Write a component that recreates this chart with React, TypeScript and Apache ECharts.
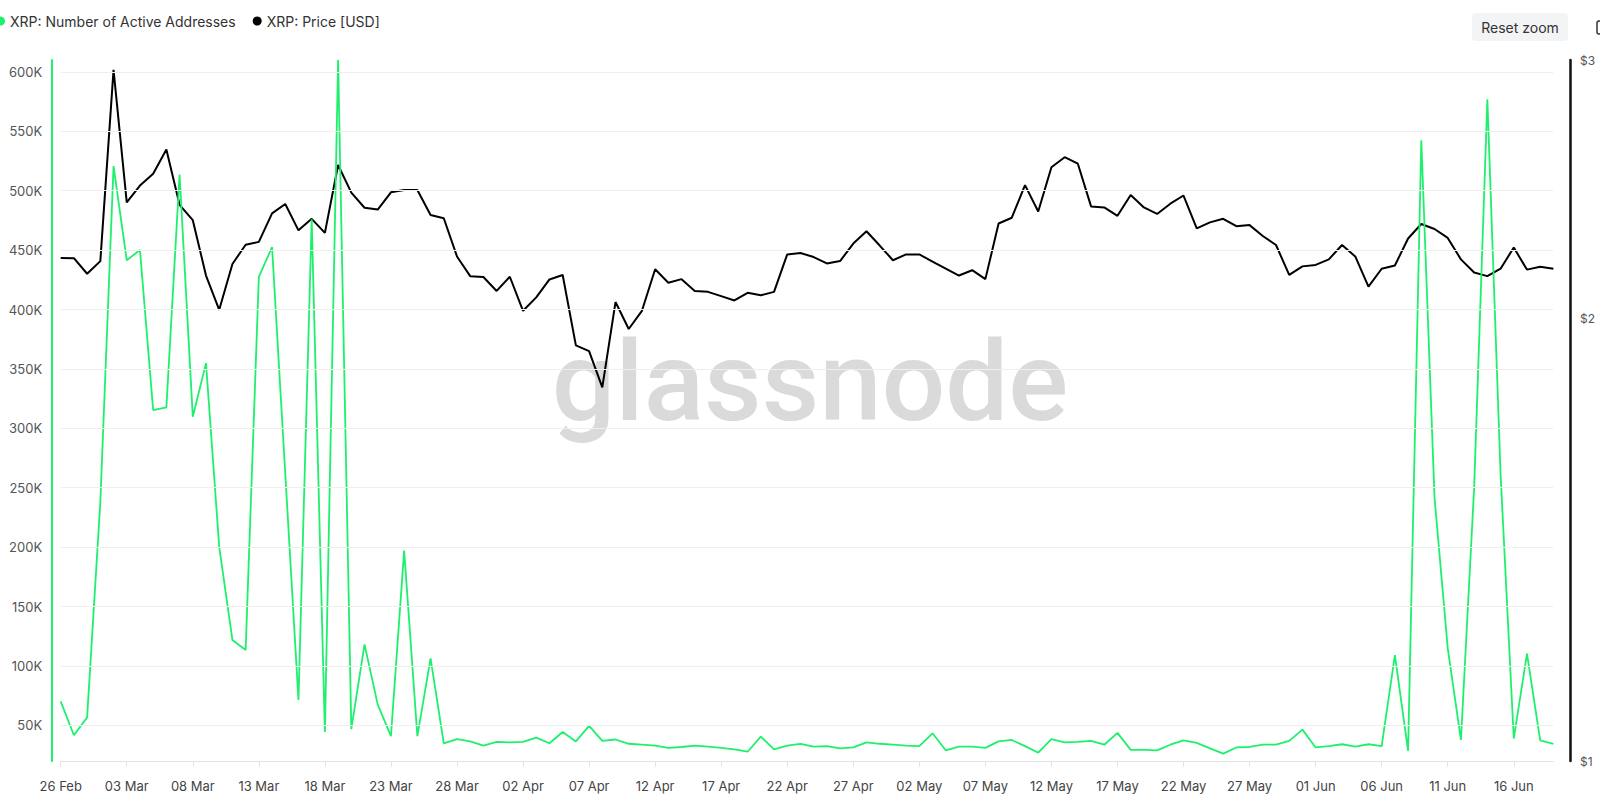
import React, { useEffect, useRef } from "react";
import * as echarts from "echarts";

// ---- data ----
const START_DATE_UTC = Date.UTC(2025, 1, 26); // 26 Feb 2025, daily points
const MONTHS = ["Jan", "Feb", "Mar", "Apr", "May", "Jun", "Jul", "Aug", "Sep", "Oct", "Nov", "Dec"];

// XRP: Number of Active Addresses (thousands)
const activeAddressesK = [
  70.2, 41.7, 56.7, 238, 520.7, 441.4, 450.1, 315.3, 317.7, 513.6,
  309.7, 354.9, 200.3, 121.8, 113.4, 427.5, 452.5, 261.8, 71.4, 475.9,
  44.4, 609.9, 46.8, 118.2, 67.4, 40.9, 197.1, 40.9, 106.3, 34.9,
  38.5, 36.5, 32.9, 36.1, 35.7, 36.1, 39.7, 34.9, 44.4, 36.5,
  49.6, 36.9, 38.1, 34.5, 33.7, 32.9, 31.0, 31.8, 32.9, 32.1,
  31.0, 29.8, 27.8, 40.5, 29.8, 32.9, 34.5, 32.1, 32.5, 30.6,
  31.4, 35.7, 34.5, 33.7, 32.9, 32.5, 43.3, 29.0, 32.1, 32.1,
  31.0, 36.5, 37.7, 32.5, 27.0, 38.5, 35.7, 36.1, 36.9, 33.7,
  43.7, 29.4, 29.4, 29.0, 33.7, 37.3, 35.3, 30.6, 26.2, 31.4,
  31.8, 33.7, 33.7, 36.9, 46.4, 31.4, 32.5, 34.1, 32.1, 34.1,
  32.5, 109.1, 28.6, 542.5, 241.9, 115.0, 37.7, 249.9, 577.0, 261.8,
  38.9, 110.3, 37.3, 34.5,
];

// XRP: Price [USD]
const priceUsd = [
  2.200, 2.199, 2.146, 2.189, 2.954, 2.400, 2.464, 2.510, 2.607, 2.391,
  2.334, 2.140, 2.028, 2.179, 2.246, 2.256, 2.359, 2.394, 2.297, 2.339,
  2.288, 2.545, 2.437, 2.380, 2.373, 2.438, 2.447, 2.447, 2.353, 2.341,
  2.205, 2.138, 2.135, 2.089, 2.136, 2.025, 2.068, 2.127, 2.142, 1.918,
  1.901, 1.796, 2.053, 1.968, 2.025, 2.161, 2.116, 2.128, 2.089, 2.086,
  2.072, 2.058, 2.083, 2.075, 2.086, 2.212, 2.217, 2.203, 2.181, 2.189,
  2.250, 2.294, 2.243, 2.192, 2.212, 2.212, 2.187, 2.163, 2.140, 2.158,
  2.128, 2.322, 2.343, 2.466, 2.366, 2.536, 2.576, 2.550, 2.385, 2.381,
  2.350, 2.428, 2.381, 2.357, 2.395, 2.426, 2.304, 2.326, 2.339, 2.312,
  2.316, 2.277, 2.245, 2.142, 2.171, 2.176, 2.195, 2.245, 2.205, 2.103,
  2.163, 2.174, 2.268, 2.320, 2.302, 2.270, 2.195, 2.150, 2.138, 2.163,
  2.236, 2.160, 2.170, 2.163,
];

const dates = activeAddressesK.map((_, i) => {
  const d = new Date(START_DATE_UTC + i * 86400000);
  return `${String(d.getUTCDate()).padStart(2, "0")} ${MONTHS[d.getUTCMonth()]}`;
});

const leftGridTicksK = [50, 100, 150, 200, 250, 300, 350, 400, 450, 500, 550, 600];
const priceTicks = [1, 2, 3];

const GREEN = "#1ef06e";
const FONT = "Inter, 'Noto Sans', sans-serif";
const NAME_AA = "XRP: Number of Active Addresses";
const NAME_PRICE = "XRP: Price [USD]";

export default function App() {
  const ref = useRef<HTMLDivElement>(null);

  useEffect(() => {
    if (!ref.current) return;
    const chart = echarts.init(ref.current, undefined, { renderer: "svg" });
    chart.setOption({
      animation: false,
      backgroundColor: "#ffffff",
      textStyle: { fontFamily: FONT },
      legend: {
        data: [
          { name: NAME_AA, icon: "circle" },
          { name: NAME_PRICE, icon: "circle" },
        ],
        left: -4,
        top: 14,
        padding: 0,
        itemWidth: 9,
        itemHeight: 9,
        itemGap: 17,
        textStyle: { fontSize: 14, color: "#333", fontFamily: FONT },
        selectedMode: false,
      },
      grid: { left: 60.7, right: 46.6, top: 60, bottom: 47, containLabel: false },
      xAxis: {
        type: "category",
        data: dates,
        boundaryGap: false,
        axisLine: { show: true, lineStyle: { color: "#e3e3e3", width: 1 } },
        axisTick: { show: true, interval: 4, length: 6, lineStyle: { color: "#e3e3e3" } },
        axisLabel: { interval: 4, color: "#444", fontSize: 13, margin: 18, fontFamily: FONT },
        splitLine: { show: false },
      },
      yAxis: [
        {
          type: "value",
          position: "left",
          min: 20,
          max: 610,
          interval: 10,
          offset: 8.5,
          axisLine: { show: true, lineStyle: { color: GREEN, width: 2 } },
          axisTick: { show: false },
          splitLine: { show: false },
          axisLabel: {
            color: "#555",
            fontSize: 13,
            margin: 10,
            fontFamily: FONT,
            formatter: (v: number) => (v % 50 === 0 ? `${v}K` : ""),
          },
        },
        {
          type: "log",
          position: "right",
          min: 1,
          max: 3,
          logBase: 10,
          offset: 16.6,
          axisLine: { show: true, lineStyle: { color: "#111", width: 2.5 } },
          axisTick: { show: false },
          splitLine: { show: false },
          axisLabel: {
            customValues: priceTicks,
            color: "#555",
            fontSize: 12,
            margin: 10,
            fontFamily: FONT,
            formatter: (v: number) => `$${Math.round(v)}`,
          },
        },
      ],
      graphic: [
        {
          type: "text",
          z: 0,
          silent: true,
          x: 810,
          y: 381,
          style: {
            text: "glassnode",
            fontSize: 112,
            fontWeight: 500,
            fontFamily: "Roboto, sans-serif",
            fill: "#dadada",
            align: "center",
            verticalAlign: "middle",
          },
        },
        {
          type: "rect",
          shape: { x: 1472, y: 13, width: 96, height: 28, r: 4 },
          style: { fill: "#f3f4f6" },
        },
        {
          type: "text",
          x: 1520,
          y: 27,
          style: {
            text: "Reset zoom",
            fontSize: 14,
            fontFamily: FONT,
            fill: "#333",
            align: "center",
            verticalAlign: "middle",
          },
        },
        {
          type: "rect",
          shape: { x: 1597, y: 21, width: 12, height: 13, r: 2 },
          style: { fill: "none", stroke: "#333", lineWidth: 1.5 },
        },
      ],
      series: [
        {
          name: "grid",
          type: "line",
          yAxisIndex: 0,
          data: activeAddressesK,
          showSymbol: false,
          silent: true,
          z: 1,
          lineStyle: { opacity: 0 },
          markLine: {
            silent: true,
            symbol: ["none", "none"],
            label: { show: false },
            lineStyle: { color: "#efefef", width: 1, type: "solid" },
            data: leftGridTicksK.map((v) => ({ yAxis: v })),
          },
        },
        {
          name: NAME_PRICE,
          type: "line",
          yAxisIndex: 1,
          data: priceUsd,
          showSymbol: false,
          symbol: "circle",
          z: 3,
          itemStyle: { color: "#000" },
          lineStyle: { color: "#000", width: 2 },
        },
        {
          name: NAME_AA,
          type: "line",
          yAxisIndex: 0,
          data: activeAddressesK,
          showSymbol: false,
          symbol: "circle",
          z: 4,
          itemStyle: { color: GREEN },
          lineStyle: { color: GREEN, width: 1.8 },
        },
      ],
    });
    return () => chart.dispose();
  }, []);

  return (
    <div
      ref={ref}
      style={{ position: "fixed", left: 0, top: 0, width: 1600, height: 808, background: "#fff" }}
    />
  );
}
